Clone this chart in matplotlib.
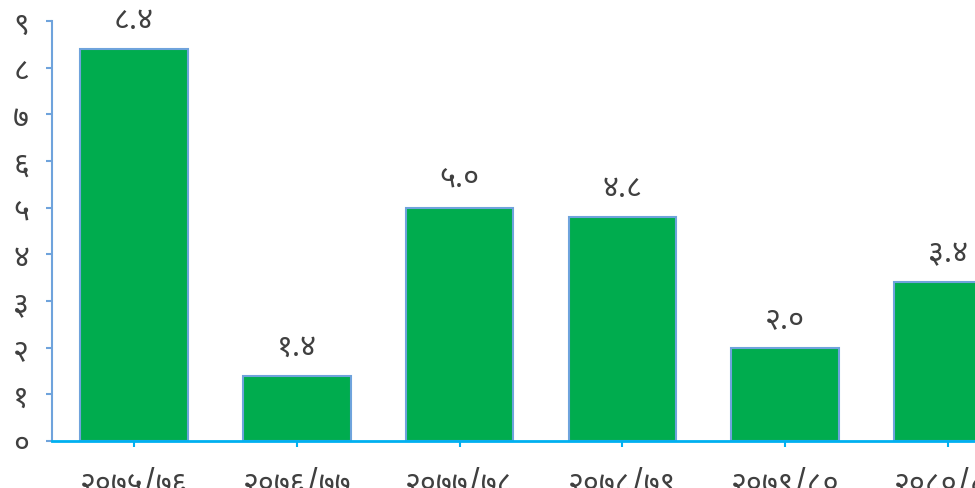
import matplotlib
matplotlib.use("Agg")
from matplotlib import pyplot as plt

plt.rcParams['font.family'] = ['Noto Sans Devanagari', 'Mukta', 'DejaVu Sans']
plt.rcParams['font.weight'] = 'light'

years = ['२०७५/७६', '२०७६/७७', '२०७७/७८', '२०७८/७९', '२०७९/८०', '२०८०/८१']
values = [8.4, 1.4, 5.0, 4.8, 2.0, 3.4]
value_labels = ['८.४', '१.४', '५.०', '४.८', '२.०', '३.४']
yticks = [0, 1, 2, 3, 4, 5, 6, 7, 8, 9]
ytick_labels = ['०', '१', '२', '३', '४', '५', '६', '७', '८', '९']

W, H = 975, 489
fig = plt.figure(figsize=(W / 100, H / 100), dpi=100)
ax = fig.add_axes([52 / W, (H - 442) / H, (W - 52) / W, (442 - 22) / H])

text_col = '#404040'
x = list(range(len(years)))
bars = ax.bar(x, values, width=0.66, color='#00ac4e', edgecolor='#6fa3dc', linewidth=1.5)

for xi, v, lab in zip(x, values, value_labels):
    ax.annotate(lab, (xi, v), xytext=(0, 10), textcoords='offset points',
                ha='center', va='bottom', fontsize=22, color=text_col)

ax.set_xlim(-0.504, 5.166)
ax.set_ylim(0, 9)
ax.set_yticks(yticks)
ax.set_yticklabels(ytick_labels)
ax.set_xticks(x)
ax.set_xticklabels(years)

for s in ['top', 'right']:
    ax.spines[s].set_visible(False)
ax.spines['left'].set_color('#6fa3dc')
ax.spines['left'].set_linewidth(1.5)
ax.spines['bottom'].set_color('#00b0f0')
ax.spines['bottom'].set_linewidth(2)

ax.tick_params(axis='y', colors='#6fa3dc', length=4.5, width=1.5, pad=12,
               labelsize=22, labelcolor=text_col)
ax.tick_params(axis='x', colors='#00b0f0', length=4.5, width=1.5, pad=15,
               labelsize=22, labelcolor=text_col)

fig.savefig("out.png")
